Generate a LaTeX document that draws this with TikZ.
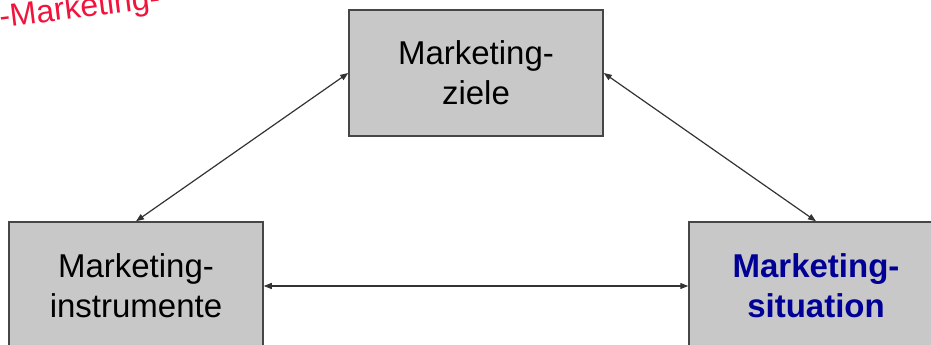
\documentclass[tikz,border=0pt]{standalone}
\usepackage{fontspec}
\setmainfont{Liberation Sans}
\usetikzlibrary{arrows.meta}

\definecolor{boxgray}{RGB}{200,200,200}
\definecolor{edgegray}{RGB}{70,70,70}
\definecolor{sitblue}{RGB}{0,0,150}
\definecolor{stampred}{RGB}{240,20,60}

\tikzset{
    mbox/.style={draw=edgegray, line width=1.5pt, fill=boxgray,
        minimum width=254pt, minimum height=126pt, inner sep=0pt,
        align=center, font=\fontsize{33}{40}\selectfont},
    link/.style={draw=black!80, line width=1.2pt,
        {Triangle[length=8pt,width=6pt]}-{Triangle[length=8pt,width=6pt]}}
}

\begin{document}
\begin{tikzpicture}[x=1pt, y=1pt]
    \useasboundingbox (0, 0) rectangle (931, 345);
    \clip (0, 0) rectangle (931, 345);
    \node[text=stampred, rotate=7, anchor=base west,
        font=\fontsize{32}{38}\selectfont] (stamp) at (-3, 317) {-Marketing-};
    \node[mbox] (ziele) at (476, 272) {Marketing-\\ziele};
    \node[mbox, minimum height=128pt] (instr) at (136, 59) {Marketing-\\instrumente};
    \node[mbox, minimum height=128pt, text=sitblue, font=\fontsize{33}{40}\selectfont\bfseries]
        (sit) at (816, 59) {Marketing-\\situation};
\draw[link] (ziele.west) -- (instr.north);
\draw[link] (ziele.east) -- (sit.north);
\draw[link] (instr.east) -- (sit.west);
\end{tikzpicture}
\end{document}
